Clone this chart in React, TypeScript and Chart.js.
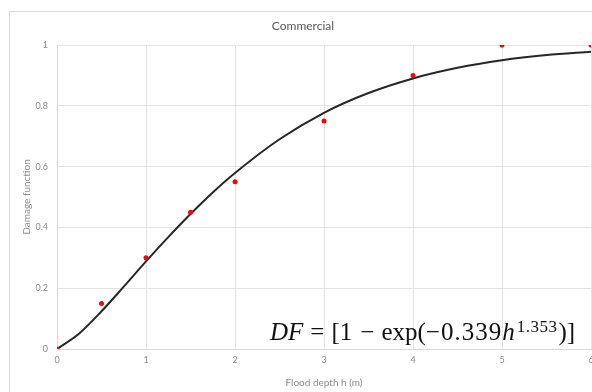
import React, { useEffect, useRef } from "react";
import { Chart, registerables } from "chart.js";

Chart.register(...registerables);

// Observed damage data (red points)
const obsDepth = [0, 0.5, 1, 1.5, 2, 3, 4, 5, 6];
const obsDamage = [0, 0.15, 0.3, 0.45, 0.55, 0.75, 0.9, 1, 1];

// Fitted curve
const curveDepth = [0, 0.25, 0.5, 0.75, 1, 1.25, 1.5, 1.75, 2, 2.5, 3, 3.5, 4, 4.5, 5, 5.5, 6];
const curveDamage = [0, 0.051, 0.124, 0.205, 0.288, 0.368, 0.444, 0.515, 0.579, 0.69, 0.777, 0.842, 0.89, 0.925, 0.95, 0.967, 0.978];

const xTickLabels = ["0", "1", "2", "3", "4", "5", "6"];
const yTickLabels = ["0", "0.2", "0.4", "0.6", "0.8", "1"];

const chartTitle = "Commercial";
const xTitle = "Flood depth h (m)";
const yTitle = "Damage function";

export default function App() {
  const ref = useRef<HTMLCanvasElement | null>(null);

  useEffect(() => {
    if (!ref.current) return;
    const font = "Lato, 'Liberation Sans', sans-serif";
    const chart = new Chart(ref.current, {
      type: "scatter",
      data: {
        datasets: [
          {
            label: "Fit",
            data: curveDepth.map((x, i) => ({ x, y: curveDamage[i] })),
            showLine: true,
            borderColor: "#262626",
            borderWidth: 2,
            pointRadius: 0,
            cubicInterpolationMode: "monotone",
            order: 2,
          },
          {
            label: "Observed",
            data: obsDepth.map((x, i) => ({ x, y: obsDamage[i] })),
            showLine: false,
            backgroundColor: "#ff0000",
            borderColor: "#ff0000",
            pointRadius: 2.5,
            pointBorderWidth: 0,
            order: 1,
          },
        ],
      },
      options: {
        responsive: false,
        animation: false,
        layout: { padding: { left: 15, right: 19, top: 0, bottom: 0 } },
        plugins: {
          legend: { display: false },
          tooltip: { enabled: false },
          title: {
            display: true,
            text: chartTitle,
            color: "#595959",
            font: { family: font, size: 12, weight: "normal" },
            padding: { top: 19, bottom: 11.6 },
          },
        },
        scales: {
          x: {
            type: "linear",
            min: 0,
            max: 6,
            ticks: {
              stepSize: 1,
              padding: 6,
              color: "#8c8c8c",
              font: { family: font, size: 9 },
              callback: (v: any) => xTickLabels[Math.round(Number(v))] ?? "",
            },
            grid: { color: "#e3e3e3", drawTicks: false },
            border: { color: "#d9d9d9" },
            title: {
              display: true,
              text: xTitle,
              color: "#8c8c8c",
              font: { family: font, size: 10 },
              padding: { top: 5.2, bottom: 3 },
            },
          },
          y: {
            type: "linear",
            min: 0,
            max: 1,
            afterFit: (s: any) => {
              s.width = 42;
            },
            ticks: {
              stepSize: 0.2,
              padding: 9,
              color: "#8c8c8c",
              font: { family: font, size: 9 },
              callback: (v: any) => yTickLabels[Math.round(Number(v) * 5)] ?? "",
            },
            grid: { color: "#e3e3e3", drawTicks: false },
            border: { color: "#d9d9d9" },
            title: {
              display: true,
              text: yTitle,
              color: "#8c8c8c",
              font: { family: font, size: 10 },
              padding: { top: 6, bottom: 0 },
            },
          },
        },
      },
    });
    return () => chart.destroy();
  }, []);

  return (
    <div
      style={{
        position: "fixed",
        left: 0,
        top: 0,
        width: 592,
        height: 392,
        overflow: "hidden",
        background: "#ffffff",
      }}
    >
      <div
        style={{
          position: "absolute",
          left: 9,
          top: 11,
          width: 640,
          height: 420,
          border: "1px solid #d9d9d9",
        }}
      />
      <canvas
        ref={ref}
        width={610}
        height={392}
        style={{ position: "absolute", left: 0, top: 0, width: 610, height: 392 }}
      />
      <div
        style={{
          position: "absolute",
          left: 270,
          top: 319,
          fontFamily: "'Liberation Serif', 'DejaVu Serif', serif",
          fontSize: 25,
          lineHeight: "25px",
          whiteSpace: "nowrap",
          color: "#111111",
        }}
      >
        <i>DF</i>
        <span style={{ margin: "0 7px 0 7px" }}>=</span>
        [1
        <span style={{ margin: "0 7px 0 8px" }}>−</span>
        exp(−
        <span style={{ marginLeft: 1, letterSpacing: 1 }}>0.339</span>
        <i>h</i>
        <sup style={{ fontSize: 17, verticalAlign: "8px", lineHeight: 0, marginLeft: 2, letterSpacing: 0.5 }}>1.353</sup>
        <span style={{ marginLeft: 1 }}>)]</span>
      </div>
    </div>
  );
}
